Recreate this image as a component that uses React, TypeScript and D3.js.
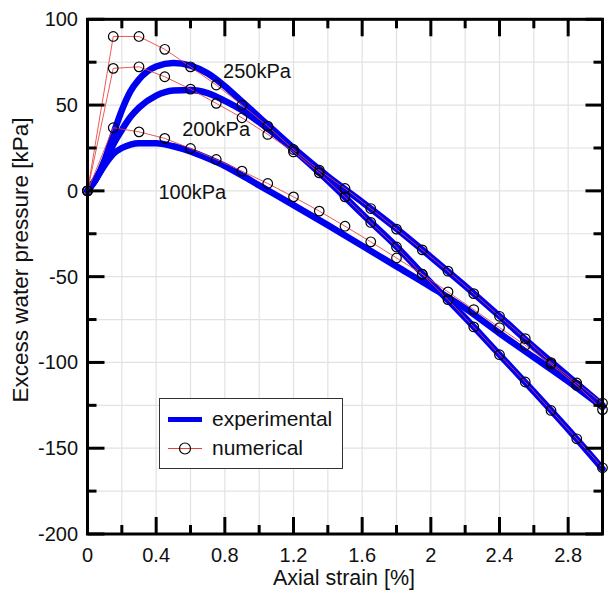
import React, { useEffect, useRef } from 'react';
import * as d3 from 'd3';

// experimental curves (smooth, blue)
const expStrain = [0, 0.05, 0.1, 0.15, 0.2, 0.25, 0.3, 0.4, 0.5, 0.6, 0.7, 0.8, 0.9, 1.0, 1.2, 1.4, 1.6, 1.8, 2.0, 2.2, 2.4, 2.6, 2.8, 3.0];
const exp250 = [0, 7, 18, 33, 47, 58, 65, 72.5, 74.5, 73, 68.5, 61, 52, 43, 25, 8.5, -6.5, -22, -38.5, -55.5, -73, -91, -108, -125];
const exp200 = [0, 7, 16, 27, 35.5, 43, 48.5, 55.5, 58.5, 58.8, 57, 52.5, 47, 40, 24, 6, -13.5, -32.5, -53.5, -74, -95.5, -117, -139, -162];
const exp100 = [0, 7, 15, 21.5, 25, 27, 27.8, 27.8, 26, 23, 19, 14.5, 9, 3.2, -8.3, -20, -32, -44, -56, -68.5, -83, -97, -111, -126];

// numerical results (red line + open circles)
const numStrain = [0, 0.15, 0.3, 0.45, 0.6, 0.75, 0.9, 1.05, 1.2, 1.35, 1.5, 1.65, 1.8, 1.95, 2.1, 2.25, 2.4, 2.55, 2.7, 2.85, 3.0];
const num250 = [0, 90, 90, 82.5, 72.3, 61.7, 50, 37.7, 24.1, 12.1, 1.4, -10.3, -22.3, -34.4, -46.8, -59.9, -73.1, -86.1, -100.1, -112, -123.7];
const num200 = [0, 71.4, 72.3, 66.5, 59.3, 51, 42.6, 32.9, 22.7, 10.5, -3.5, -18.4, -32.7, -48.6, -63.4, -79.3, -95.5, -111.4, -128, -144.5, -161.4];
const num100 = [0, 36.8, 34.4, 30.6, 24.7, 18.3, 11.5, 4.3, -3.5, -11.8, -20.6, -29.7, -39.1, -48.6, -58.9, -69.2, -79.7, -90, -101, -113.4, -127.5];

const xTicks = [0, 0.4, 0.8, 1.2, 1.6, 2, 2.4, 2.8];
const yTicks = [-200, -150, -100, -50, 0, 50, 100];

const labels = [
  { text: '250kPa', x: 0.79, y: 66 },
  { text: '200kPa', x: 0.552, y: 32 },
  { text: '100kPa', x: 0.413, y: -5 },
];

const FONT = 'Arial, "Liberation Sans", sans-serif';

const App = () => {
  const svgRef = useRef<SVGSVGElement>(null);

  useEffect(() => {
    const width = 611;
    const height = 593;
    const left = 87.5, right = 602.5, top = 19.3, bottom = 534;

    d3.select(svgRef.current).selectAll('*').remove();
    const svg = d3.select(svgRef.current)
      .attr('width', width)
      .attr('height', height);

    const x = d3.scaleLinear().domain([0, 3]).range([left, right]);
    const y = d3.scaleLinear().domain([-200, 100]).range([bottom, top]);

    const xMinor = d3.range(0, 3.0001, 0.2);
    const yMinor = d3.range(-200, 100.001, 25);

    // grid
    const grid = svg.append('g');
    grid.selectAll('line.gx').data(xMinor).enter().append('line')
      .attr('x1', d => x(d)).attr('x2', d => x(d))
      .attr('y1', top).attr('y2', bottom)
      .attr('stroke', '#e2e2e2').attr('stroke-width', 1.2);
    grid.selectAll('line.gy').data(yMinor).enter().append('line')
      .attr('x1', left).attr('x2', right)
      .attr('y1', d => y(d)).attr('y2', d => y(d))
      .attr('stroke', '#e2e2e2').attr('stroke-width', 1.2);

    // experimental
    const smooth = d3.line<number>()
      .x((d, i) => x(expStrain[i]))
      .y(d => y(d))
      .curve(d3.curveMonotoneX);
    [exp250, exp200, exp100].forEach(series => {
      svg.append('path')
        .attr('d', smooth(series))
        .attr('fill', 'none')
        .attr('stroke', '#0000f0')
        .attr('stroke-width', 6.5)
        .attr('stroke-linecap', 'round')
        .attr('stroke-linejoin', 'round');
    });

    // numerical
    const straight = d3.line<number>()
      .x((d, i) => x(numStrain[i]))
      .y(d => y(d));
    [num250, num200, num100].forEach(series => {
      svg.append('path')
        .attr('d', straight(series))
        .attr('fill', 'none')
        .attr('stroke', '#e8403a')
        .attr('stroke-opacity', 0.85)
        .attr('stroke-width', 1);
      svg.append('g').selectAll('circle').data(series).enter().append('circle')
        .attr('cx', (d, i) => x(numStrain[i]))
        .attr('cy', d => y(d))
        .attr('r', 4.8)
        .attr('fill', 'none')
        .attr('stroke', '#000')
        .attr('stroke-width', 1.2);
    });

    // frame + ticks
    const axis = svg.append('g').attr('stroke', '#000');
    axis.append('rect')
      .attr('x', left).attr('y', top)
      .attr('width', right - left).attr('height', bottom - top)
      .attr('fill', 'none').attr('stroke-width', 3);

    const isMajorX = (d: number) => Math.abs(d / 0.4 - Math.round(d / 0.4)) < 1e-6;
    const isMajorY = (d: number) => d % 50 === 0;

    xMinor.forEach(d => {
      const len = isMajorX(d) ? 17 : 9;
      axis.append('line').attr('x1', x(d)).attr('x2', x(d))
        .attr('y1', bottom).attr('y2', bottom - len).attr('stroke-width', 3);
      axis.append('line').attr('x1', x(d)).attr('x2', x(d))
        .attr('y1', top).attr('y2', top + len).attr('stroke-width', 3);
    });
    yMinor.forEach(d => {
      const len = isMajorY(d) ? 17 : 9;
      axis.append('line').attr('x1', left).attr('x2', left + len)
        .attr('y1', y(d)).attr('y2', y(d)).attr('stroke-width', 3);
      axis.append('line').attr('x1', right).attr('x2', right - len)
        .attr('y1', y(d)).attr('y2', y(d)).attr('stroke-width', 3);
    });

    const text = svg.append('g')
      .style('font-family', FONT)
      .style('font-size', '20px')
      .attr('fill', '#111');

    text.selectAll('text.xt').data(xTicks).enter().append('text')
      .attr('x', d => x(d)).attr('y', 562)
      .attr('text-anchor', 'middle')
      .text(d => String(d));

    text.selectAll('text.yt').data(yTicks).enter().append('text')
      .attr('x', 78).attr('y', d => y(d) + 7)
      .attr('text-anchor', 'end')
      .text(d => String(d));

    text.append('text')
      .attr('x', 344).attr('y', 585)
      .attr('text-anchor', 'middle')
      .style('font-size', '21.5px')
      .text('Axial strain [%]');

    text.append('text')
      .attr('transform', `translate(28, 260) rotate(-90)`)
      .attr('text-anchor', 'middle')
      .style('font-size', '22.5px')
      .text('Excess water pressure [kPa]');

    labels.forEach(l => {
      text.append('text')
        .attr('x', x(l.x)).attr('y', y(l.y))
        .text(l.text);
    });

    // legend
    const lg = svg.append('g');
    lg.append('rect')
      .attr('x', 159.5).attr('y', 398.5)
      .attr('width', 183).attr('height', 70)
      .attr('fill', '#fff').attr('stroke', '#333').attr('stroke-width', 1);
    lg.append('line')
      .attr('x1', 168).attr('x2', 202).attr('y1', 419.5).attr('y2', 419.5)
      .attr('stroke', '#0000f0').attr('stroke-width', 5);
    lg.append('line')
      .attr('x1', 168).attr('x2', 202).attr('y1', 448.5).attr('y2', 448.5)
      .attr('stroke', '#e8403a').attr('stroke-width', 1);
    lg.append('circle')
      .attr('cx', 185).attr('cy', 448.5).attr('r', 5.5)
      .attr('fill', 'none').attr('stroke', '#000').attr('stroke-width', 1.2);
    const lt = lg.append('g').style('font-family', FONT).style('font-size', '21px').attr('fill', '#111');
    lt.append('text').attr('x', 212).attr('y', 426).text('experimental');
    lt.append('text').attr('x', 212).attr('y', 455).text('numerical');
  }, []);

  return (
    <svg ref={svgRef} style={{ position: 'absolute', left: 0, top: 0, background: '#fff' }}></svg>
  );
};

export default App;
